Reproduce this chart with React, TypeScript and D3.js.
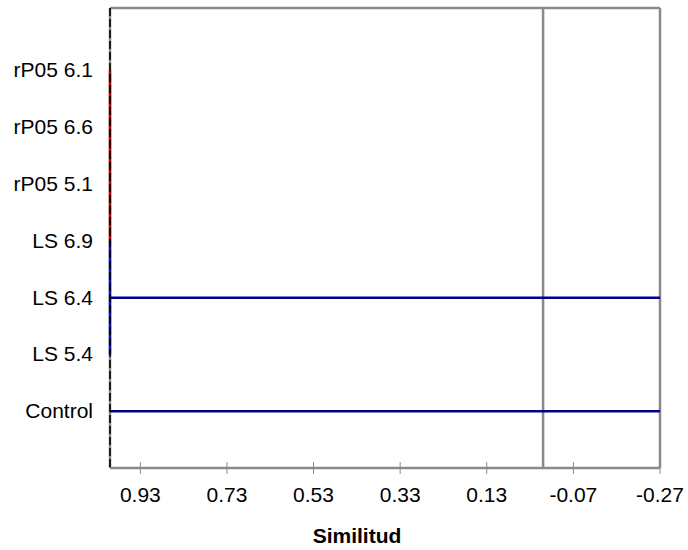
import React from "react";
import * as d3 from "d3";

// rows of the dendrogram, top to bottom
const categories = ["rP05 6.1", "rP05 6.6", "rP05 5.1", "LS 6.9", "LS 6.4", "LS 5.4", "Control"];
const tickValues = [0.93, 0.73, 0.53, 0.33, 0.13, -0.07, -0.27];

// horizontal branches (similarity from -> to)
const branchRows = ["LS 6.4", "Control"];
const branchFrom = [1.0, 1.0];
const branchTo = [-0.27, -0.27];

// vertical connectors at similarity 1.0
const connectorFrom = ["rP05 6.1", "LS 6.9"];
const connectorTo = ["LS 6.9", "LS 5.4"];
const connectorColor = ["#c00000", "#1010c0"];

const refLine = 0;

const W = 688;
const H = 550;
const grey = "#8a8a8a";
const navy = "#000088";

export default function App() {
  const x = d3.scaleLinear().domain([1.0, -0.27]).range([110, 660]);
  const y = d3.scaleLinear().domain([-0.1, 8]).range([8, 468]);
  const rowY = (name: string) => y(categories.indexOf(name) + 1);
  const top = y.range()[0];
  const bottom = y.range()[1];
  const left = x.range()[0];
  const right = x.range()[1];

  return (
    <svg width={W} height={H} style={{ position: "absolute", left: 0, top: 0, background: "#fff" }}
      fontFamily="'Liberation Sans', Arial, sans-serif">
      {/* frame */}
      <line x1={left} x2={right} y1={top} y2={top} stroke={grey} strokeWidth={2.5} />
      <line x1={right} x2={right} y1={top} y2={bottom} stroke={grey} strokeWidth={2.5} />
      <line x1={x(refLine)} x2={x(refLine)} y1={top} y2={bottom} stroke={grey} strokeWidth={2.5} />
      <line x1={left} x2={right} y1={bottom} y2={bottom} stroke={grey} strokeWidth={2.5} />
      <line x1={left} x2={left} y1={top} y2={bottom} stroke={grey} strokeWidth={2.5} />

      {/* ticks */}
      {tickValues.map((t) => (
        <g key={t}>
          <line x1={x(t)} x2={x(t)} y1={bottom - 6} y2={bottom + 6} stroke={grey} strokeWidth={1} />
          <text x={x(t)} y={502} fontSize={21} textAnchor="middle" fill="#000">
            {t.toFixed(2)}
          </text>
        </g>
      ))}

      {/* branches */}
      {branchRows.map((r, i) => (
        <line key={r} x1={x(branchFrom[i])} x2={x(branchTo[i])} y1={rowY(r)} y2={rowY(r)}
          stroke={navy} strokeWidth={2.5} />
      ))}

      {/* connectors */}
      {connectorFrom.map((f, i) => (
        <line key={f} x1={x(1.0)} x2={x(1.0)} y1={rowY(f)} y2={rowY(connectorTo[i])}
          stroke={connectorColor[i]} strokeWidth={2.5} />
      ))}
      <line x1={left} x2={left} y1={top} y2={bottom} stroke="#000" strokeWidth={1.6} strokeDasharray="8,3" />

      {/* row labels */}
      {categories.map((c) => (
        <text key={c} x={93} y={rowY(c)} dy="0.33em" fontSize={21} textAnchor="end" fill="#000">
          {c}
        </text>
      ))}

      <text x={357} y={543} fontSize={21} fontWeight="bold" textAnchor="middle" fill="#000">
        Similitud
      </text>
    </svg>
  );
}
